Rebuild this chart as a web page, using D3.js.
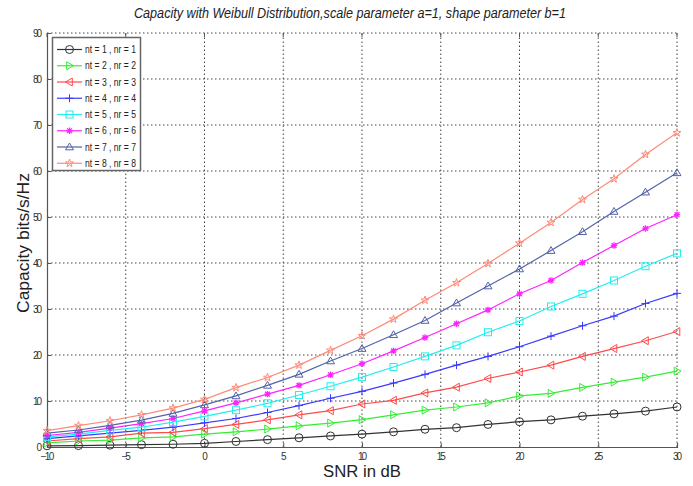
<!DOCTYPE html>
<html><head><meta charset="utf-8">
<script src="https://cdn.jsdelivr.net/npm/d3@7"></script>
<style>body{margin:0;background:#fff}svg{display:block}</style>
</head><body>
<svg id="c" width="693" height="486"></svg>
<script>
const snr = [-10,-8,-6,-4,-2,0,2,4,6,8,10,12,14,16,18,20,22,24,26,28,30];
const n1 = [0.26,0.3,0.4,0.5,0.6,0.8,1.2,1.6,2.0,2.4,2.8,3.3,3.85,4.2,4.9,5.5,5.9,6.7,7.2,7.8,8.7];
const n2 = [0.9,1.3,1.5,2.0,2.2,2.8,3.3,3.9,4.6,5.2,5.95,7.0,8.0,8.7,9.6,11.1,11.65,12.95,14.1,15.2,16.5];
const n3 = [1.3,1.8,2.2,3.0,3.2,4.0,4.9,5.9,7.0,7.9,9.35,10.15,11.75,13.0,14.9,16.3,17.8,19.7,21.4,23.1,25.1];
const n4 = [1.8,2.4,3.0,3.6,4.3,5.25,6.2,7.5,9.0,10.6,12.1,13.9,15.8,17.8,19.7,21.8,24.1,26.35,28.45,31.2,33.4];
const n5 = [2.2,2.8,3.6,4.3,5.4,6.65,8.0,9.5,11.3,13.2,15.2,17.4,19.7,22.1,24.95,27.4,30.55,33.3,36.2,39.3,42.1];
const n6 = [2.5,3.2,4.1,5.1,6.2,7.85,9.6,11.5,13.4,15.7,18.1,20.9,23.8,26.8,29.8,33.3,36.2,40.1,43.8,47.5,50.5];
const n7 = [3.0,3.7,4.7,5.85,7.3,9.15,11.1,13.4,15.8,18.7,21.4,24.4,27.5,31.3,35.0,38.7,42.7,46.8,51.2,55.4,59.6];
const n8 = [3.55,4.65,5.7,7.0,8.45,10.35,12.9,15.1,17.8,21.0,24.2,27.8,31.9,35.7,39.9,44.3,48.8,53.8,58.3,63.6,68.3];
const seriesNames = ["nt = 1 , nr = 1","nt = 2 , nr = 2","nt = 3 , nr = 3","nt = 4 , nr = 4","nt = 5 , nr = 5","nt = 6 , nr = 6","nt = 7 , nr = 7","nt = 8 , nr = 8"];
const seriesValues = [n1,n2,n3,n4,n5,n6,n7,n8];
const colors = ["#333333","#33ee33","#ff4a4a","#3a3aff","#22eeee","#ff22ff","#5263a8","#ff8a78"];
const markers = ["circle","tri-right","tri-left","plus","square","asterisk","tri-up","star"];
const xTicks = [-10,-5,0,5,10,15,20,25,30];
const yTicks = [0,10,20,30,40,50,60,70,80,90];
const titleText = "Capacity with Weibull Distribution,scale parameter a=1, shape parameter b=1";
const xLabel = "SNR in dB";
const yLabel = "Capacity bits/s/Hz";

const L = 47, R = 677, T = 33, B = 447;
const svg = d3.select("#c");
const x = d3.scaleLinear().domain([-10,30]).range([L,R]);
const y = d3.scaleLinear().domain([0,90]).range([B,T]);
const font = "'Liberation Sans', Arial, sans-serif";

// grid
const g = svg.append("g");
g.selectAll(".gx").data(xTicks.slice(1)).enter().append("line")
  .attr("x1",d=>x(d)).attr("x2",d=>x(d)).attr("y1",B).attr("y2",T)
  .attr("stroke","#444").attr("stroke-width",1).attr("stroke-dasharray","1.5,2.5");
g.selectAll(".gy").data(yTicks.slice(1)).enter().append("line")
  .attr("x1",L).attr("x2",R).attr("y1",d=>y(d)).attr("y2",d=>y(d))
  .attr("stroke","#444").attr("stroke-width",1).attr("stroke-dasharray","1.5,2.5");

// axes
const xAxis = d3.axisBottom(x).tickValues(xTicks).tickSize(-4).tickPadding(6).tickFormat(d3.format("d"));
const yAxis = d3.axisLeft(y).tickValues(yTicks).tickSize(-4).tickPadding(5).tickFormat(d3.format("d"));
const gx = svg.append("g").attr("transform",`translate(0,${B})`).call(xAxis);
const gy = svg.append("g").attr("transform",`translate(${L},0)`).call(yAxis);
[gx,gy].forEach(a=>{
  a.select(".domain").attr("stroke","#555").attr("stroke-width",1.2);
  a.selectAll(".tick line").attr("stroke","#555");
  a.selectAll("text").attr("fill","#333").style("font-family",font).style("font-size","10px");
});
gx.selectAll("text").attr("textLength", function(){return this.getComputedTextLength()*0.8;});
gy.selectAll("text").attr("textLength", function(){return this.getComputedTextLength()*0.8;});
// top ticks
svg.append("g").selectAll("line").data(xTicks).enter().append("line")
  .attr("x1",d=>x(d)).attr("x2",d=>x(d)).attr("y1",T).attr("y2",T+4).attr("stroke","#555");

// lines
const line = d3.line().x((d,i)=>x(snr[i])).y(d=>y(d));
const starSym = d3.symbol().type(d3.symbolStar).size(20);
function drawMarker(sel, type, color, cx, cy){
  const m = sel.append("g").attr("transform",`translate(${cx},${cy})`);
  const r = 4;
  if(type==="circle"){ m.append("circle").attr("r",r).attr("fill","none").attr("stroke",color); }
  else if(type==="square"){ m.append("rect").attr("x",-r+0.5).attr("y",-r+0.5).attr("width",2*r-1).attr("height",2*r-1).attr("fill","none").attr("stroke",color); }
  else if(type==="tri-right"){ m.append("path").attr("d",`M${-r*0.7},${-r}L${r},0L${-r*0.7},${r}Z`).attr("fill","none").attr("stroke",color); }
  else if(type==="tri-left"){ m.append("path").attr("d",`M${r*0.7},${-r}L${-r},0L${r*0.7},${r}Z`).attr("fill","none").attr("stroke",color); }
  else if(type==="tri-up"){ m.append("path").attr("d",`M0,${-r}L${r},${r*0.7}L${-r},${r*0.7}Z`).attr("fill","none").attr("stroke",color); }
  else if(type==="plus"){ m.append("path").attr("d",`M${-r},0H${r}M0,${-r}V${r}`).attr("stroke",color); }
  else if(type==="asterisk"){ m.append("path").attr("d",`M${-r*0.8},0H${r*0.8}M0,${-r*0.8}V${r*0.8}M${-r*0.6},${-r*0.6}L${r*0.6},${r*0.6}M${-r*0.6},${r*0.6}L${r*0.6},${-r*0.6}`).attr("stroke",color).attr("stroke-width",1.3); }
  else if(type==="star"){ m.append("path").attr("d",starSym()).attr("fill","none").attr("stroke",color); }
}
seriesValues.forEach((vals,k)=>{
  const gs = svg.append("g");
  gs.append("path").datum(vals).attr("d",line).attr("fill","none").attr("stroke",colors[k]).attr("stroke-width",1.2);
  vals.forEach((v,i)=>drawMarker(gs, markers[k], colors[k], x(snr[i]), y(v)));
});

// legend
const lg = svg.append("g");
lg.append("rect").attr("x",52.5).attr("y",37.5).attr("width",88).attr("height",133)
  .attr("fill","#fff").attr("stroke","#666").attr("stroke-width",1.5);
seriesNames.forEach((nm,k)=>{
  const cy = 49.5 + k*16.25;
  lg.append("line").attr("x1",57).attr("x2",82).attr("y1",cy).attr("y2",cy).attr("stroke",colors[k]).attr("stroke-width",1.2);
  drawMarker(lg, markers[k], colors[k], 69.5, cy);
  lg.append("text").attr("x",85).attr("y",cy+3.5).text(nm)
    .style("font-family",font).style("font-size","10px").attr("fill","#222")
    .attr("textLength",51).attr("lengthAdjust","spacingAndGlyphs");
});

// titles
svg.append("text").attr("x",350).attr("y",18).attr("text-anchor","middle")
  .style("font-family",font).style("font-size","14px").style("font-style","italic").attr("fill","#222")
  .attr("textLength",432).attr("lengthAdjust","spacingAndGlyphs").text(titleText);
svg.append("text").attr("x",362).attr("y",477).attr("text-anchor","middle")
  .style("font-family",font).style("font-size","16px").attr("fill","#222")
  .attr("textLength",78).attr("lengthAdjust","spacingAndGlyphs").text(xLabel);
svg.append("text").attr("transform","translate(29,243) rotate(-90)").attr("text-anchor","middle")
  .style("font-family",font).style("font-size","16px").attr("fill","#222")
  .attr("textLength",140).attr("lengthAdjust","spacingAndGlyphs").text(yLabel);
</script>
</body></html>
